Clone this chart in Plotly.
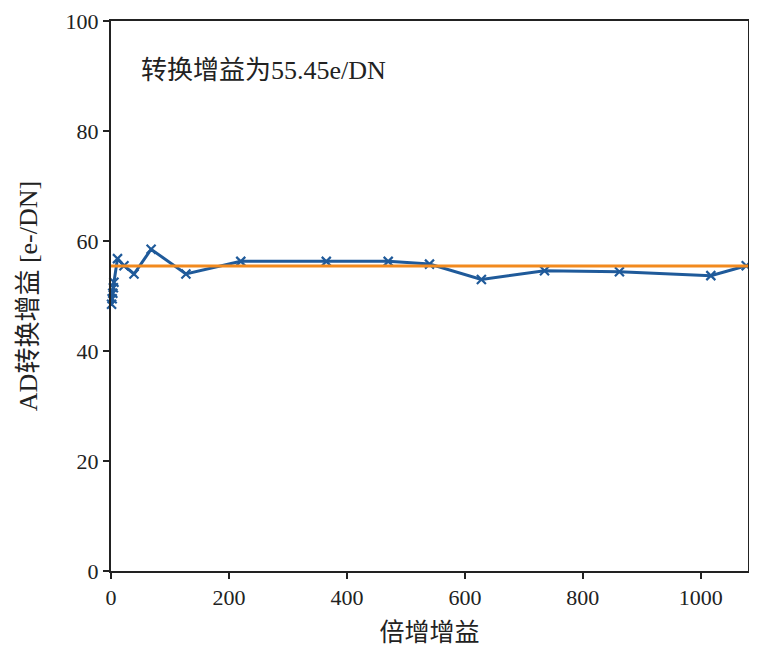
import plotly.graph_objects as go

# Data
gain_x = [1, 2, 3, 4, 5, 11, 22, 39, 68, 127, 220, 365, 470, 540, 628, 735, 862, 1017, 1077]
ad_gain = [48.5, 49.5, 50.5, 51.5, 52.5, 56.8, 55.5, 54.0, 58.5, 54.0, 56.3, 56.3, 56.3, 55.8, 53.0, 54.6, 54.4, 53.7, 55.5]
fit_x = [0, 1080]
fit_y = [55.45, 55.45]
x_ticks = [0, 200, 400, 600, 800, 1000]
y_ticks = [0, 20, 40, 60, 80, 100]

font_fam = "Liberation Serif, Noto Sans CJK SC, serif"
blue = "#1f5a9a"
orange = "#f28a1e"
ink = "#222"

fig = go.Figure()
fig.add_trace(go.Scatter(
    x=gain_x, y=ad_gain, mode="lines+markers",
    line=dict(color=blue, width=3),
    marker=dict(symbol="x-thin", size=9, line=dict(color=blue, width=2.2)),
    showlegend=False, cliponaxis=False,
))
fig.add_trace(go.Scatter(
    x=fit_x, y=fit_y, mode="lines",
    line=dict(color=orange, width=3),
    showlegend=False,
))

fig.add_annotation(
    x=48, y=91, xref="x", yref="y", text="转换增益为55.45e/DN",
    showarrow=False, xanchor="left", yanchor="middle",
    font=dict(family=font_fam, size=26, color=ink),
)

axis_common = dict(
    showgrid=False, zeroline=False, showline=True, linecolor=ink, linewidth=2,
    mirror=True, ticks="outside", ticklen=6, tickwidth=1.5, tickcolor=ink,
    tickfont=dict(family=font_fam, size=22, color=ink), automargin=False,
    ticklabeloverflow="allow",
)
fig.update_xaxes(range=[0, 1080], tickvals=x_ticks,
                 title=dict(text="倍增增益", font=dict(family=font_fam, size=25, color=ink), standoff=14),
                 **axis_common)
fig.update_yaxes(range=[0, 100], tickvals=y_ticks,
                 title=dict(text="AD转换增益 [e-/DN]", font=dict(family=font_fam, size=26, color=ink), standoff=20),
                 **axis_common)

fig.update_layout(
    width=757, height=652,
    margin=dict(l=103, r=17, t=13, b=89),
    plot_bgcolor="white", paper_bgcolor="white",
)

fig.write_html("out.html")
